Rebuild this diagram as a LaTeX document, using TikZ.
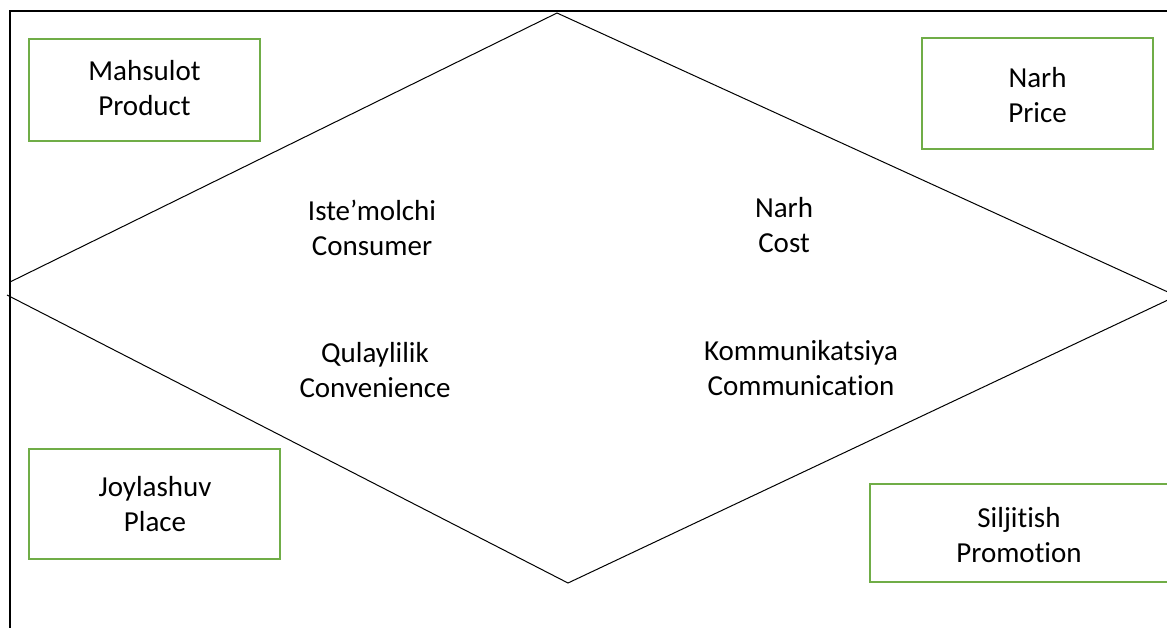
\documentclass[tikz,border=0pt]{standalone}
\usepackage{fontspec}
\setmainfont{Carlito}[Ligatures=NoCommon]
\begin{document}
\begin{tikzpicture}[x=1pt,y=-1pt,
  frame/.style={line width=2pt,black},
  edge/.style={line width=1pt,black},
  greenbox/.style={draw=boxgreen,line width=2.6pt,rectangle,inner sep=0pt},
  label/.style={align=center,font=\fontsize{29}{35.5}\selectfont,inner sep=0pt}]
\definecolor{boxgreen}{HTML}{70AD47}
\useasboundingbox (0,0) rectangle (1167,627);
% outer frame (open on the right and bottom)
\coordinate (fL) at (10,640);
\coordinate (fC) at (10,11);
\coordinate (fR) at (1180,11);
\draw[frame] (fL) -- (fC) -- (fR);
% the two halves of the rhombus
\coordinate (uL) at (10,282);
\coordinate (top) at (557,13);
\coordinate (uR) at (1170,293);
\coordinate (lL) at (7,295);
\coordinate (bot) at (568,583);
\coordinate (lR) at (1170,299);
\draw[edge] (uL) -- (top) -- (uR);
\draw[edge] (lL) -- (bot) -- (lR);
% 4P boxes and their texts
\node[greenbox,minimum width=231,minimum height=102] (product) at (144.5,90) {};
\node[label] (productText) at (144.5,88) {Mahsulot\\Product};
\node[greenbox,minimum width=231,minimum height=111] (price) at (1037.5,93.5) {};
\node[label] (priceText) at (1037.5,95) {Narh\\Price};
\node[greenbox,minimum width=251,minimum height=110] (place) at (154.5,504) {};
\node[label] (placeText) at (155,504) {Joylashuv\\Place};
\node[greenbox,minimum width=300,minimum height=98] (promotion) at (1020,533) {};
\node[label] (promotionText) at (1019,535) {Siljitish\\Promotion};
% 4C labels inside the rhombus
\node[label] (consumer) at (372,228) {Iste’molchi\\Consumer};
\node[label] (cost) at (784,225) {Narh\\Cost};
\node[label] (convenience) at (375,370) {Qulaylilik\\Convenience};
\node[label] (communication) at (801,368) {Kommunikatsiya\\Communication};
\end{tikzpicture}
\end{document}
